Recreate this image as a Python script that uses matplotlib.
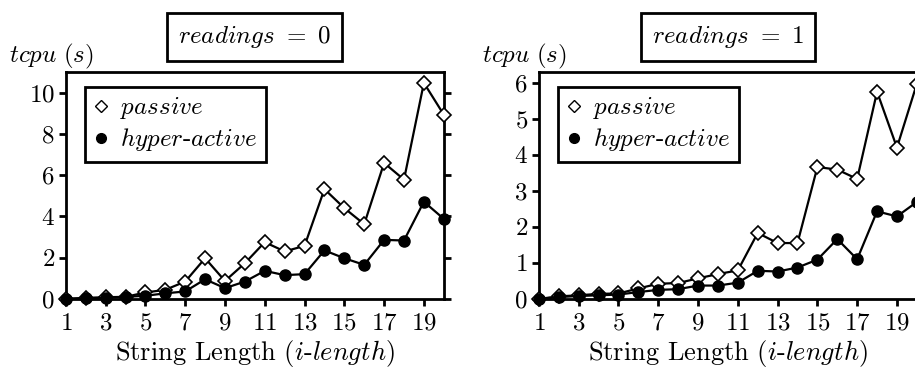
import numpy as np
import matplotlib
matplotlib.use("Agg")
import matplotlib.pyplot as plt

plt.rcParams['font.family'] = 'cmr10'
plt.rcParams['mathtext.fontset'] = 'cm'
plt.rcParams['axes.formatter.use_mathtext'] = True

lengths = list(range(1, 21))

# readings = 0
passive_r0 = [0.0, 0.05, 0.08, 0.1, 0.31, 0.44, 0.84, 1.97, 0.87, 1.73,
              2.75, 2.30, 2.57, 5.32, 4.40, 3.62, 6.59, 5.78, 10.47, 8.93]
hyper_r0 = [0.0, 0.03, 0.05, 0.1, 0.15, 0.27, 0.36, 0.95, 0.52, 0.84,
            1.36, 1.15, 1.20, 2.35, 1.97, 1.65, 2.86, 2.83, 4.71, 3.88]

# readings = 1
passive_r1 = [0.0, 0.07, 0.1, 0.14, 0.15, 0.29, 0.42, 0.44, 0.57, 0.69,
              0.79, 1.83, 1.55, 1.55, 3.66, 3.59, 3.33, 5.75, 4.20, 5.97]
hyper_r1 = [0.0, 0.05, 0.08, 0.1, 0.12, 0.19, 0.25, 0.27, 0.37, 0.37,
            0.45, 0.78, 0.76, 0.87, 1.09, 1.66, 1.10, 2.43, 2.29, 2.69]

xticks = list(range(1, 20, 2))

fig = plt.figure(figsize=(9.15, 3.69), dpi=100)

panels = [
    (0.072, passive_r0, hyper_r0, 11.0, [0, 2, 4, 6, 8, 10], '$readings\\ =\\ 0$', True),
    (0.589, passive_r1, hyper_r1, 6.3, [0, 1, 2, 3, 4, 5, 6], '$readings\\ =\\ 1$', False),
]

for x0, pas, hyp, ytop, yt, title, right_ticks in panels:
    ax = fig.add_axes([x0, 0.19, 0.413, 0.615])
    ax.plot(lengths, pas, color='black', lw=1.6, marker='D', ms=7.5,
            mfc='white', mec='black', mew=1.2, clip_on=False, zorder=3)
    ax.plot(lengths, hyp, color='black', lw=1.6, marker='o', ms=8,
            mfc='black', mec='black', clip_on=False, zorder=3)
    ax.set_xlim(1, 20)
    ax.set_ylim(0, ytop)
    ax.set_xticks(xticks)
    ax.set_yticks(yt)
    for s in ax.spines.values():
        s.set_linewidth(2)
    ax.tick_params(axis='both', direction='out', length=5, width=2,
                   labelsize=18)
    ax.tick_params(axis='x', pad=5)
    ax.tick_params(axis='y', right=right_ticks, pad=3)
    ax.set_xlabel('String Length ($i$-$length$)', fontsize=19, labelpad=2)

    # legend built from proxy markers
    h1, = ax.plot([], [], ls='none', marker='D', ms=6.5, mfc='white',
                  mec='black', mew=1.0)
    h2, = ax.plot([], [], ls='none', marker='o', ms=7, mfc='black',
                  mec='black')
    leg = ax.legend([h1, h2], ['$passive$', '$hyper$-$active$'],
                    loc='upper left', bbox_to_anchor=(0.05, 0.935),
                    fontsize=18, handlelength=0.6, handletextpad=0.45,
                    borderpad=0.35, labelspacing=0.2, fancybox=False,
                    framealpha=1, edgecolor='black', borderaxespad=0)
    leg.get_frame().set_linewidth(2)

    ax.text(0.5, 1.155, title, transform=ax.transAxes, ha='center',
            va='center', fontsize=18,
            bbox=dict(boxstyle='square,pad=0.45', fc='white', ec='black', lw=2))
    ax.text(-0.15, 1.07, '$tcpu\\ (s)$', transform=ax.transAxes,
            ha='left', va='center', fontsize=18)

fig.savefig('out.png', dpi=100)
